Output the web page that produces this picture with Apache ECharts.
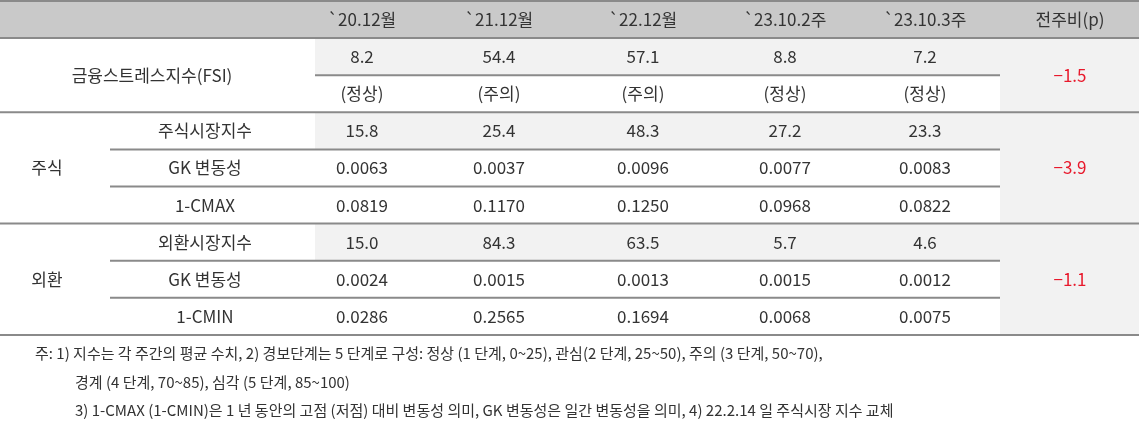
<!DOCTYPE html>
<html>
<head>
<meta charset="utf-8">
<script src="https://cdn.jsdelivr.net/npm/echarts@6/dist/echarts.min.js"></script>
<style>html,body{margin:0;padding:0;background:#fff}#c{width:1139px;height:433px}</style>
</head>
<body>
<div id="c"></div>
<script>
// 표 데이터
const headers = ['`20.12월', '`21.12월', '`22.12월', '`23.10.2주', '`23.10.3주', '전주비(p)']
const groups = ['금융스트레스지수(FSI)', '주식', '외환']
const subLabels = [[], ['주식시장지수', 'GK 변동성', '1-CMAX'], ['외환시장지수', 'GK 변동성', '1-CMIN']]
const fsiValues = ['8.2', '54.4', '57.1', '8.8', '7.2']
const fsiStatus = ['(정상)', '(주의)', '(주의)', '(정상)', '(정상)']
const stockValues = [
    ['15.8', '25.4', '48.3', '27.2', '23.3'],
    ['0.0063', '0.0037', '0.0096', '0.0077', '0.0083'],
    ['0.0819', '0.1170', '0.1250', '0.0968', '0.0822']
]
const fxValues = [
    ['15.0', '84.3', '63.5', '5.7', '4.6'],
    ['0.0024', '0.0015', '0.0013', '0.0015', '0.0012'],
    ['0.0286', '0.2565', '0.1694', '0.0068', '0.0075']
]
const weekChange = ['−1.5', '−3.9', '−1.1']
const notes = [
    '주: 1) 지수는 각 주간의 평균 수치, 2) 경보단계는 5 단계로 구성: 정상 (1 단계, 0~25), 관심(2 단계, 25~50), 주의 (3 단계, 50~70),',
    '경계 (4 단계, 70~85), 심각 (5 단계, 85~100)',
    '3) 1-CMAX (1-CMIN)은 1 년 동안의 고점 (저점) 대비 변동성 의미, GK 변동성은 일간 변동성을 의미, 4) 22.2.14 일 주식시장 지수 교체'
]

const FONT = '"Noto Sans CJK KR", "Noto Sans", sans-serif'
const colX = [362, 499, 643, 785, 925, 1070]
const rowH = 37.1
const tableTop = 1
const rowY = k => tableTop + rowH * k
const els = []

function rect(x, y, w, h, fill) {
    els.push({ type: 'rect', shape: { x, y, width: w, height: h }, style: { fill }, z: 0 })
}
function hline(x1, x2, y) {
    els.push({ type: 'line', shape: { x1, y1: y, x2, y2: y }, style: { stroke: '#8a8a8a', lineWidth: 2 }, z: 5 })
}
function text(t, x, y, opt) {
    els.push({
        type: 'text', x, y, z: 10,
        style: Object.assign({ text: t, fill: '#333', font: '17px ' + FONT, align: 'center', verticalAlign: 'middle' }, opt || {})
    })
}

// 배경
rect(0, rowY(0), 1139, rowH, '#c9c9c9')
rect(315, rowY(1), 685, rowH, '#f2f2f2')
rect(315, rowY(3), 685, rowH, '#f2f2f2')
rect(315, rowY(6), 685, rowH, '#f2f2f2')
rect(1000, rowY(1), 139, rowY(9) - rowY(1), '#f2f2f2')

// 선
hline(0, 1139, rowY(0))
hline(0, 1139, rowY(1))
hline(315, 1000, rowY(2))
hline(0, 1139, rowY(3))
hline(110, 1000, rowY(4))
hline(110, 1000, rowY(5))
hline(0, 1139, rowY(6))
hline(110, 1000, rowY(7))
hline(110, 1000, rowY(8))
hline(0, 1139, rowY(9))

const mid = k => rowY(k) + rowH / 2
headers.forEach((h, i) => text(h, colX[i], mid(0)))

// FSI
text(groups[0], 152, rowY(2))
fsiValues.forEach((v, i) => text(v, colX[i], mid(1)))
fsiStatus.forEach((v, i) => text(v, colX[i], mid(2)))
text(weekChange[0], colX[5], rowY(2), { fill: '#e8192c' })

// 주식 / 외환
;[stockValues, fxValues].forEach((vals, g) => {
    const base = 3 + g * 3
    text(groups[g + 1], 47, mid(base + 1))
    subLabels[g + 1].forEach((s, r) => text(s, 205, mid(base + r)))
    vals.forEach((row, r) => row.forEach((v, i) => text(v, colX[i], mid(base + r))))
    text(weekChange[g + 1], colX[5], mid(base + 1), { fill: '#e8192c' })
})

// 주석
const noteX = [35, 75, 75]
const noteY = [353, 382, 410]
notes.forEach((n, i) => text(n, noteX[i], noteY[i], { align: 'left', font: '15px ' + FONT }))

const chart = echarts.init(document.getElementById('c'))
chart.setOption({ animation: false, graphic: { elements: els } })
</script>
</body>
</html>
